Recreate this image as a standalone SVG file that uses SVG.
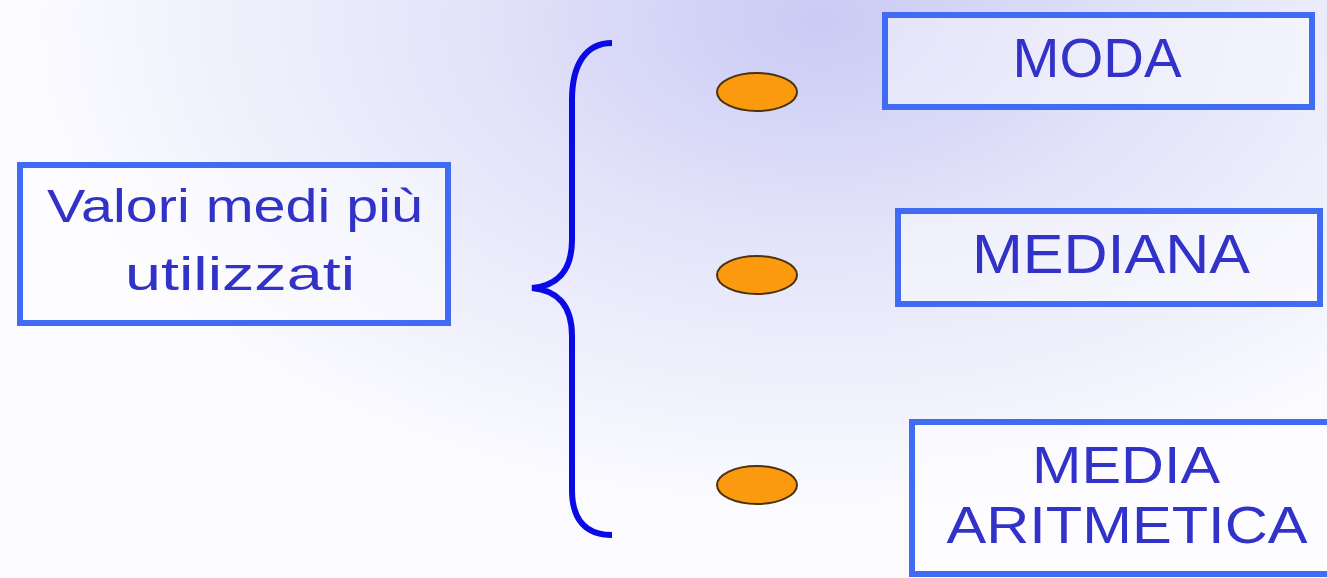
<svg xmlns="http://www.w3.org/2000/svg" width="1327" height="578" viewBox="0 0 1327 578">
  <defs>
    <radialGradient id="bg" gradientUnits="userSpaceOnUse" cx="820" cy="20" r="800" gradientTransform="translate(820 20) scale(1 0.62) translate(-820 -20)">
      <stop offset="0" stop-color="#cacaf5"/>
      <stop offset="0.45" stop-color="#e4e4fa"/>
      <stop offset="1" stop-color="#fbfbff"/>
    </radialGradient>
    <style>
      .box { fill: #ffffff; fill-opacity: 0.45; stroke: #3f6cf2; stroke-width: 6; }
      .label { font-family: "Comic Sans MS", "Liberation Sans", sans-serif; fill: #3232c8; text-anchor: middle; }
      .big { font-size: 56px; }
      .pair { font-size: 52px; }
      .mid { font-size: 46px; }
      .dot { fill: #fb9a0e; stroke: #4a3210; stroke-width: 2; }
      .brace { fill: none; stroke: #0a0ae6; stroke-width: 6; }
    </style>
  </defs>

  <!-- background wash -->
  <rect x="0" y="0" width="1327" height="578" fill="url(#bg)"/>

  <!-- connectors: grouping brace and bullets -->
  <g id="connectors">
    <path class="brace" d="M612,43 C586,43 572,64 572,100 L572,240 C572,272 556,286 532,288 C556,290 572,304 572,336 L572,490 C572,520 586,535 612,535"/>
    <ellipse class="dot" cx="757" cy="92" rx="40" ry="19"/>
    <ellipse class="dot" cx="757" cy="275" rx="40" ry="19"/>
    <ellipse class="dot" cx="757" cy="485" rx="40" ry="19"/>
  </g>

  <g id="node-valori">
    <rect class="box" x="20" y="165" width="428" height="158"/>
    <text class="label mid" x="235" y="222" textLength="376" lengthAdjust="spacingAndGlyphs">Valori medi più</text>
    <text class="label mid" x="240" y="290" textLength="230" lengthAdjust="spacingAndGlyphs">utilizzati</text>
  </g>

  <g id="node-moda">
    <rect class="box" x="885" y="15" width="427" height="92"/>
    <text class="label big" x="1097" y="77" textLength="169" lengthAdjust="spacingAndGlyphs">MODA</text>
  </g>

  <g id="node-mediana">
    <rect class="box" x="898" y="211" width="422" height="93"/>
    <text class="label big" x="1111" y="273" textLength="278" lengthAdjust="spacingAndGlyphs">MEDIANA</text>
  </g>

  <g id="node-media-aritmetica">
    <rect class="box" x="912" y="422" width="430" height="152"/>
    <text class="label pair" x="1126" y="483" textLength="188" lengthAdjust="spacingAndGlyphs">MEDIA</text>
    <text class="label pair" x="1127" y="543" textLength="361" lengthAdjust="spacingAndGlyphs">ARITMETICA</text>
  </g>
</svg>
